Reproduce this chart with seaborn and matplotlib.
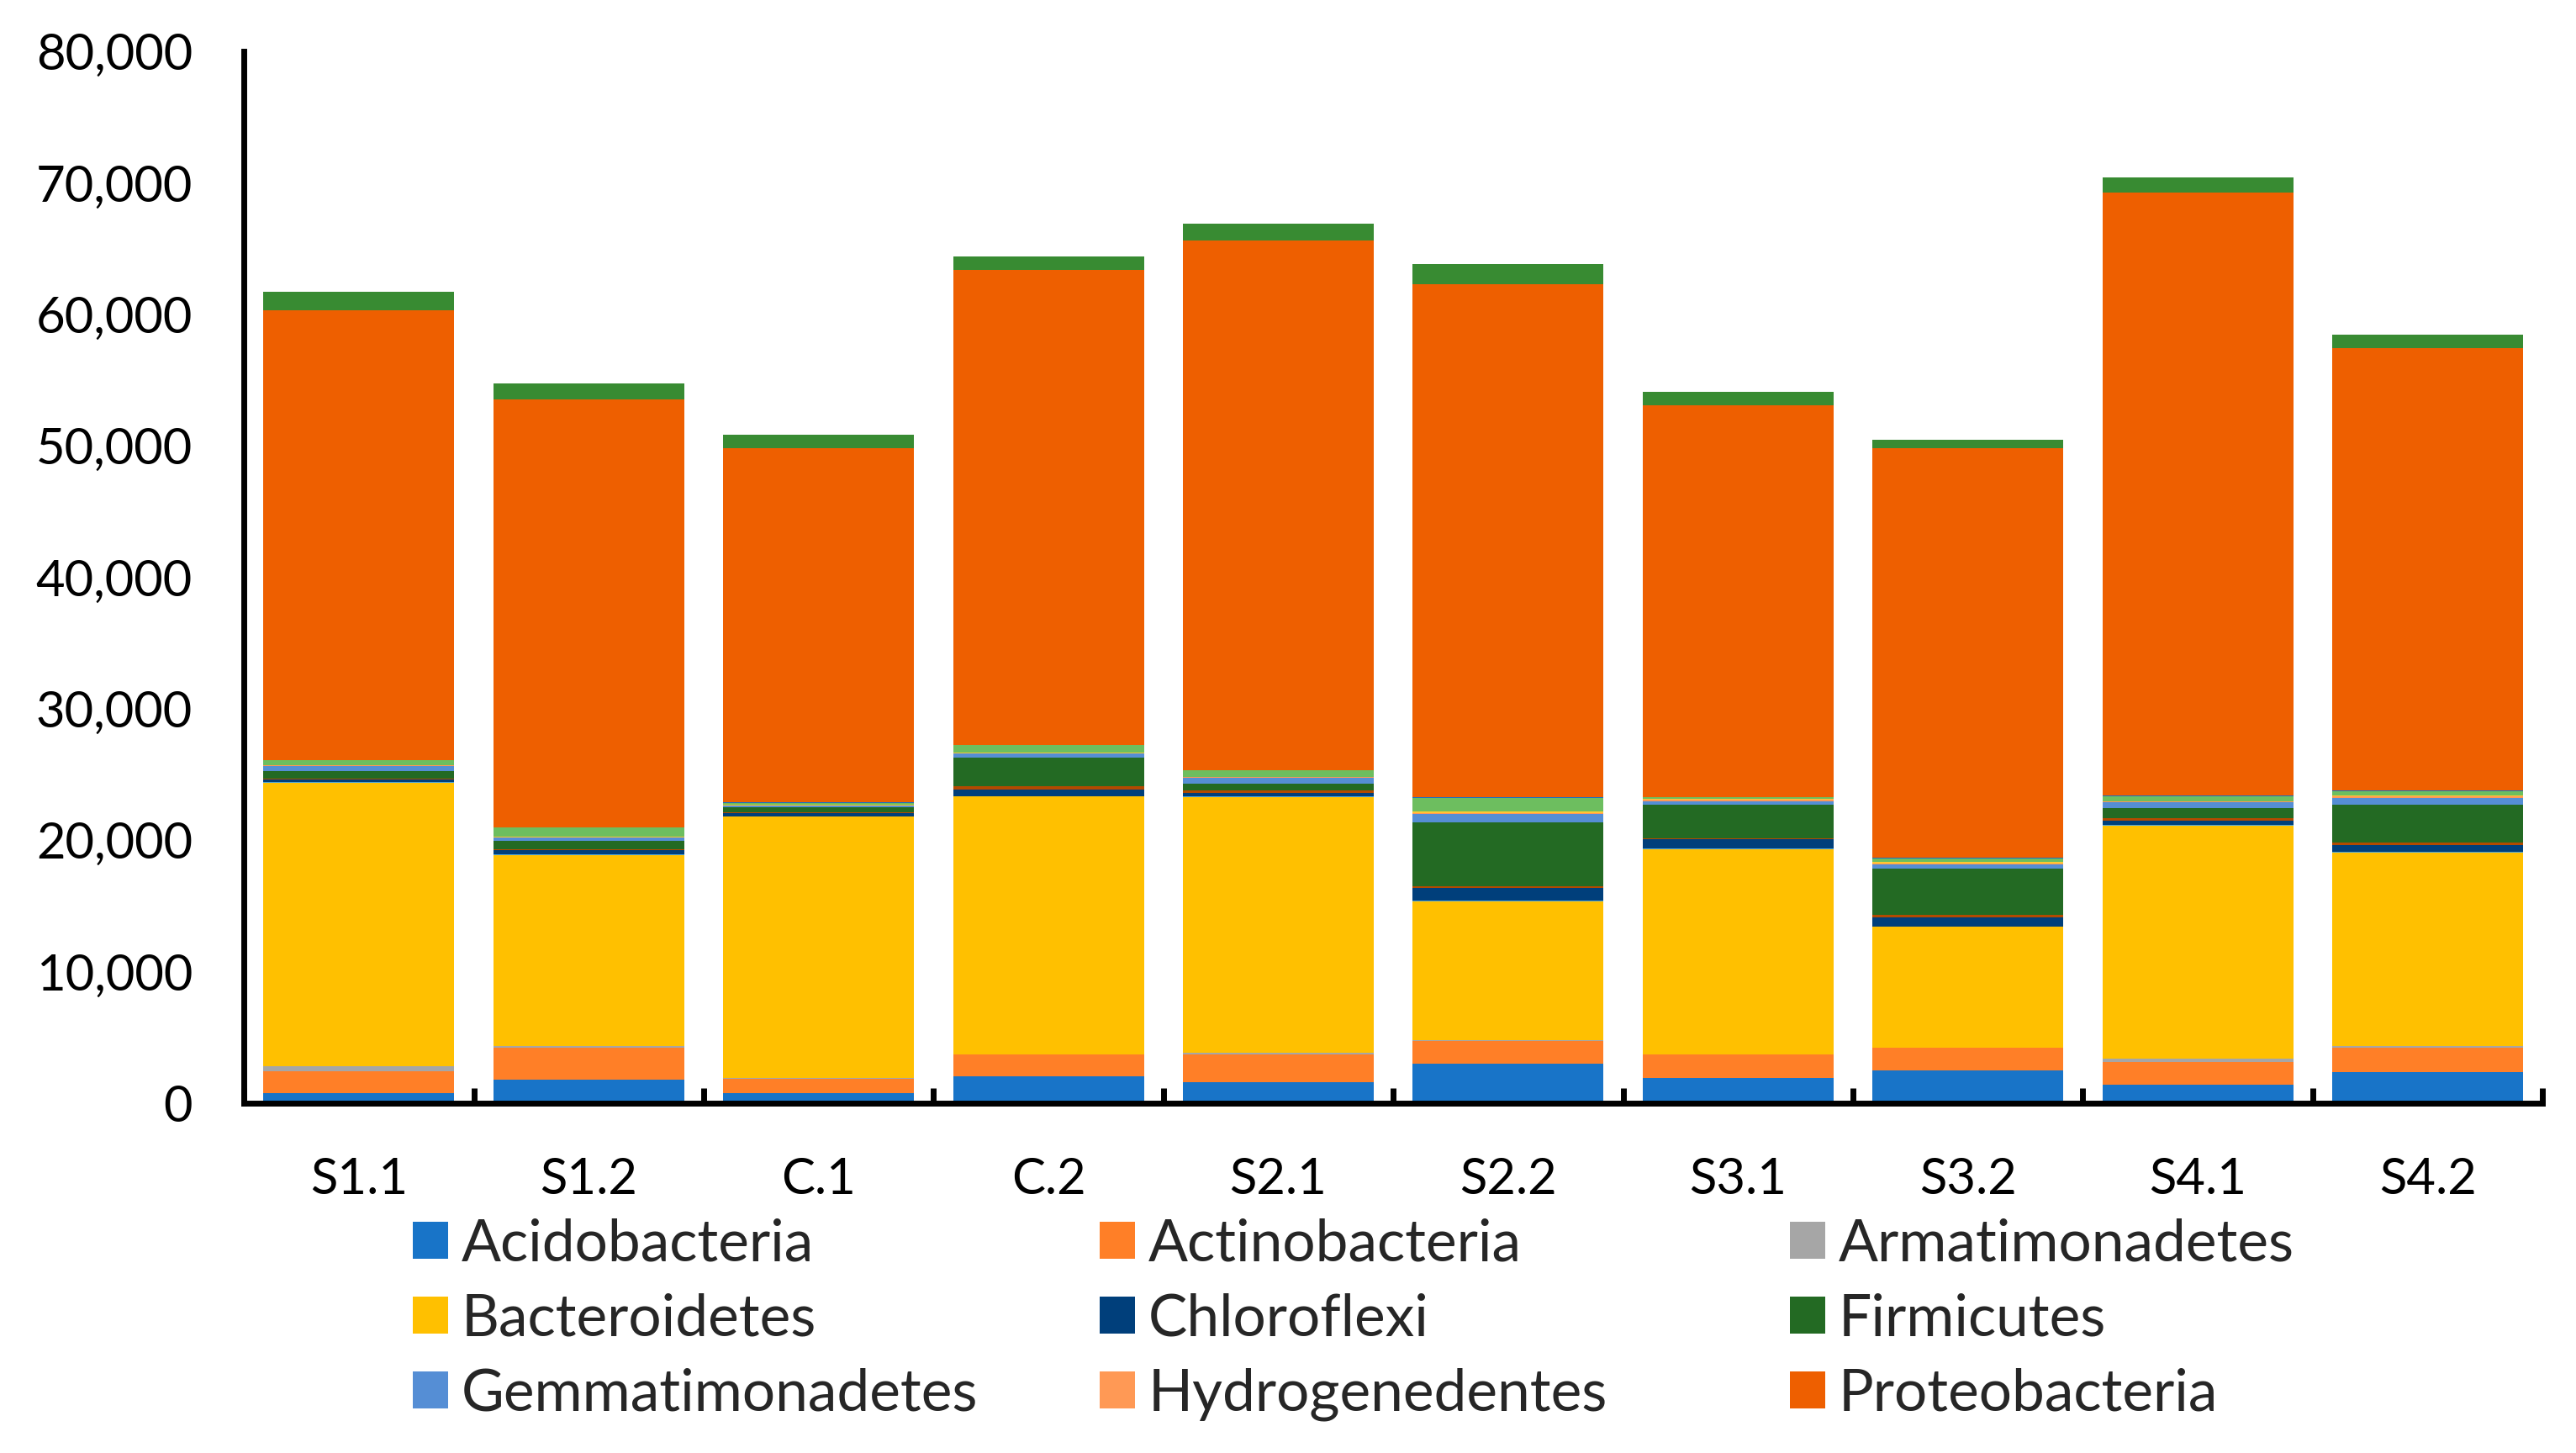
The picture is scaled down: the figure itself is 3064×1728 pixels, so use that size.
import numpy as np
import matplotlib
matplotlib.use("Agg")
import matplotlib.pyplot as plt
import seaborn as sns
from matplotlib.patches import Patch
from matplotlib.ticker import FuncFormatter

# ---------------- data ----------------
samples = ["S1.1", "S1.2", "C.1", "C.2", "S2.1", "S2.2", "S3.1", "S3.2", "S4.1", "S4.2"]

acidobacteria    = [770, 1800, 790, 2020, 1630, 2980, 1950, 2530, 1440, 2400]
actinobacteria   = [1670, 2440, 1090, 1670, 2060, 1740, 1740, 1670, 1670, 1800]
armatimonadetes  = [385, 130, 30, 30, 130, 90, 30, 20, 260, 130]
bacteroidetes    = [21570, 14510, 19880, 19630, 19430, 10530, 15570, 9200, 17760, 14740]
chlamydiae       = [64, 64, 10, 10, 64, 64, 64, 10, 64, 64]
chloroflexi      = [190, 320, 260, 520, 260, 970, 710, 710, 320, 520]
cyanobacteria    = [64, 64, 64, 260, 190, 130, 64, 190, 190, 190]
firmicutes       = [580, 640, 390, 2120, 520, 4890, 2570, 3540, 770, 2830]
gemmatimonadetes = [385, 260, 130, 320, 450, 580, 260, 320, 450, 520]
hydrogenedentes  = [20, 15, 20, 40, 64, 64, 130, 64, 20, 130]
latescibacteria  = [20, 64, 64, 20, 20, 130, 64, 130, 20, 64]
nitrospirae      = [385, 640, 130, 580, 520, 1030, 130, 260, 390, 320]
patescibacteria  = [20, 10, 40, 10, 10, 64, 10, 64, 64, 64]
proteobacteria   = [34210, 32600, 26950, 36170, 40240, 39050, 29800, 31100, 45860, 33640]
verrucomicrobia  = [1410, 1210, 1020, 1020, 1320, 1530, 980, 680, 1150, 1070]

y_ticks = [0, 10000, 20000, 30000, 40000, 50000, 60000, 70000, 80000]

# stacking order (bottom -> top): name, values, colour
series = [
    ("Acidobacteria", acidobacteria, "#1874C8"),
    ("Actinobacteria", actinobacteria, "#FF7F27"),
    ("Armatimonadetes", armatimonadetes, "#A6A6A6"),
    ("Bacteroidetes", bacteroidetes, "#FFC000"),
    ("Chlamydiae", chlamydiae, "#4EA6DC"),
    ("Chloroflexi", chloroflexi, "#003F7B"),
    ("Cyanobacteria", cyanobacteria, "#B24A00"),
    ("Firmicutes", firmicutes, "#236A23"),
    ("Gemmatimonadetes", gemmatimonadetes, "#558ED5"),
    ("Hydrogenedentes", hydrogenedentes, "#FF9955"),
    ("Latescibacteria", latescibacteria, "#FFC832"),
    ("Nitrospirae", nitrospirae, "#6DBE5F"),
    ("Patescibacteria", patescibacteria, "#1B6FC2"),
    ("Proteobacteria", proteobacteria, "#EE5F00"),
    ("Verrucomicrobia", verrucomicrobia, "#388B32"),
]

legend_columns = [
    ["Acidobacteria", "Bacteroidetes", "Gemmatimonadetes"],
    ["Actinobacteria", "Chloroflexi", "Hydrogenedentes"],
    ["Armatimonadetes", "Firmicutes", "Proteobacteria"],
]

# ---------------- plot ----------------
sns.set_theme(style="white")
plt.rcParams['font.family'] = ['Lato', 'DejaVu Sans']

fig = plt.figure(figsize=(30.64, 17.28), dpi=100)
left, right, top, bottom_f = 0.0947, 0.987, 0.9647, 0.2407
ax = fig.add_axes([left, bottom_f, right - left, top - bottom_f])

base = np.zeros(len(samples))
for name, vals, color in series:
    sns.barplot(x=samples, y=vals, order=samples, bottom=base, color=color,
                saturation=1, width=0.83, errorbar=None, linewidth=0,
                edgecolor="none", ax=ax)
    base = base + np.array(vals, dtype=float)

ax.set_xlim(-0.5, len(samples) - 0.5)
ax.set_ylim(0, 80000)
ax.set_yticks(y_ticks)
ax.yaxis.set_major_formatter(FuncFormatter(lambda v, p: f"{int(v):,}"))
ax.set_xlabel("")
ax.set_ylabel("")

for s in ["top", "right"]:
    ax.spines[s].set_visible(False)
for s in ["left", "bottom"]:
    ax.spines[s].set_linewidth(5)
    ax.spines[s].set_color("black")

ax.tick_params(axis="y", direction="in", length=15, width=5, pad=44,
               labelsize=43, colors="black")
ax.tick_params(axis="x", which="major", length=0, pad=46, labelsize=43,
               colors="black")
ax.set_xticks(np.arange(-0.5, len(samples), 1.0), minor=True)
ax.tick_params(axis="x", which="minor", direction="in", length=13, width=5,
               colors="black", bottom=True)

color_of = {n: c for n, _, c in series}
col_x = [491 / 3064, 1308 / 3064, 2129 / 3064]
for cx, names in zip(col_x, legend_columns):
    handles = [Patch(facecolor=color_of[n], edgecolor="none", label=n) for n in names]
    fig.legend(handles=handles, loc="upper left", bbox_to_anchor=(cx, 0.162),
               frameon=False, fontsize=50, handlelength=0.6, handleheight=0.6,
               handletextpad=0.23, labelspacing=0.375, borderpad=0,
               borderaxespad=0)

fig.savefig("out.png", dpi=100)
